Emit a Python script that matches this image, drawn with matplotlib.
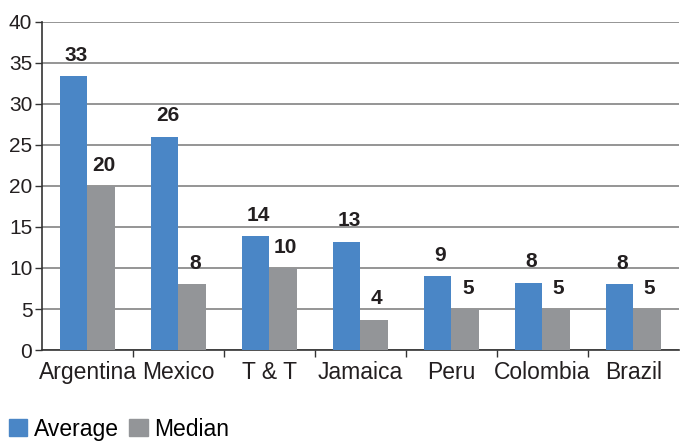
import numpy as np
import matplotlib.pyplot as plt
from matplotlib.patches import Patch

plt.rcParams['font.family'] = ['Liberation Sans Narrow', 'Liberation Sans', 'DejaVu Sans']

countries = ['Argentina', 'Mexico', 'T & T', 'Jamaica', 'Peru', 'Colombia', 'Brazil']
average = [33.4, 26.0, 13.9, 13.2, 9.0, 8.2, 8.05]
median = [20.0, 8.05, 10.0, 3.7, 5.0, 5.0, 5.0]
avg_labels = ['33', '26', '14', '13', '9', '8', '8']
med_labels = ['20', '8', '10', '4', '5', '5', '5']

blue = '#4a86c6'
grey = '#939598'

fig = plt.figure(figsize=(6.81, 4.41), dpi=100)
ax = fig.add_axes([0.0617, 0.2063, 0.935, 0.744])

x = np.arange(len(countries))
w = 0.3
b1 = ax.bar(x - w / 2, average, w, color=blue, zorder=3)
b2 = ax.bar(x + w / 2, median, w, color=grey, zorder=3)

for bars, labs in [(b1, avg_labels), (b2, med_labels)]:
    for r, t in zip(bars, labs):
        ax.annotate(t, (r.get_x() + r.get_width() / 2 + 0.03, r.get_height()),
                    xytext=(0, 11), textcoords='offset points',
                    ha='center', va='baseline', fontsize=15,
                    fontweight='bold', color='#231f20')

ax.set_ylim(0, 40)
ax.set_yticks(range(0, 41, 5))
ax.set_xlim(-0.5, len(countries) - 0.5)
ax.yaxis.grid(True, color='#8c8c8c', lw=1.3, zorder=0)

ax.set_xticks(x)
ax.set_xticklabels(countries, fontsize=16.5, color='#231f20')
ax.set_xticks(np.arange(0.5, len(countries) - 0.5, 1), minor=True)
ax.tick_params(axis='x', which='major', length=0, pad=8)
ax.tick_params(axis='x', which='minor', length=5, width=1, color='#333333', direction='out')
ax.tick_params(axis='y', length=5, width=1, color='#333333', labelsize=15, labelcolor='#231f20', pad=2)

for s in ['top', 'right']:
    ax.spines[s].set_visible(False)
ax.spines['left'].set_color('#333333')
ax.spines['bottom'].set_color('#333333')
ax.spines['left'].set_linewidth(1.2)
ax.spines['bottom'].set_linewidth(1.2)

handles = [Patch(color=blue, label='Average'), Patch(color=grey, label='Median')]
fig.legend(handles=handles, loc='center left', bbox_to_anchor=(0.013, 0.027),
           ncol=2, frameon=False, fontsize=16.5, handlelength=0.8, handleheight=0.8,
           handletextpad=0.3, columnspacing=0.45, borderaxespad=0, borderpad=0)

fig.savefig('out.png', dpi=100)
